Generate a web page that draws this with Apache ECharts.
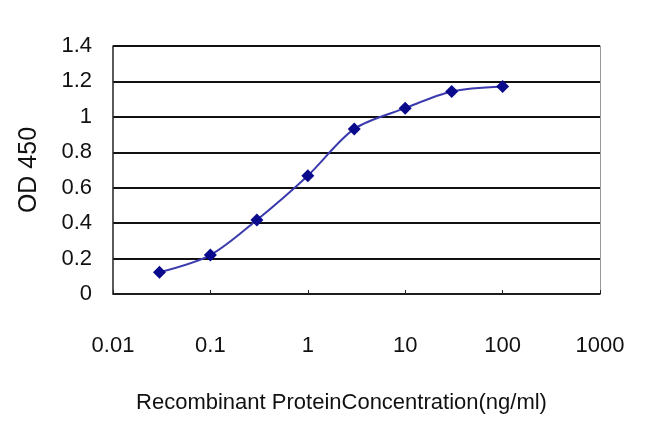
<!DOCTYPE html>
<html>
<head>
<meta charset="utf-8">
<script src="https://cdn.jsdelivr.net/npm/echarts@6/dist/echarts.min.js"></script>
<style>
html,body{margin:0;padding:0;background:#fff;}
#echarts{width:650px;height:433px;}
</style>
</head>
<body>
<div id="echarts"></div>
<script>
// concentration (ng/ml) and OD 450 readings
var conc = [0.03, 0.1, 0.3, 1, 3, 10, 30, 100];
var od450 = [0.123, 0.22, 0.418, 0.668, 0.932, 1.049, 1.143, 1.171];

var data = [];
for (var i = 0; i < conc.length; i++) {
    data.push([conc[i], od450[i]]);
}

var myChart = echarts.init(document.getElementById('echarts'));
var font = 'Liberation Sans, Arial, sans-serif';
var option = {
    animation: false,
    backgroundColor: '#fff',
    grid: {left: 113, right: 50, top: 46, bottom: 139},
    xAxis: {
        type: 'log',
        logBase: 10,
        min: 0.01,
        max: 1000,
        name: 'Recombinant ProteinConcentration(ng/ml)',
        nameLocation: 'middle',
        nameGap: 98,
        nameTextStyle: {color: '#111', fontSize: 22, fontFamily: font, padding: [0, 30, 0, 0]},
        axisLine: {lineStyle: {color: '#222', width: 1.5}},
        axisTick: {inside: true, length: 4, lineStyle: {color: '#222'}},
        axisLabel: {
            color: '#111', fontSize: 22, fontFamily: font, margin: 41,
            formatter: function (v) { return String(v); }
        },
        splitLine: {show: false}
    },
    yAxis: [{
        type: 'value',
        min: 0,
        max: 1.4,
        interval: 0.2,
        name: 'OD 450',
        nameLocation: 'middle',
        nameGap: 71,
        nameTextStyle: {color: '#111', fontSize: 25, fontFamily: font},
        axisLine: {show: true, lineStyle: {color: '#222', width: 1.5}},
        axisTick: {show: false},
        axisLabel: {color: '#111', fontSize: 22, fontFamily: font, margin: 21},
        splitLine: {lineStyle: {color: '#111', width: 2}}
    }, {
        type: 'value',
        min: 0,
        max: 1.4,
        interval: 0.2,
        position: 'right',
        axisLine: {show: true, lineStyle: {color: '#999', width: 1}},
        axisTick: {show: false},
        axisLabel: {show: false},
        splitLine: {show: false}
    }],
    series: [{
        type: 'line',
        smooth: 0.3,
        data: data,
        symbol: 'diamond',
        symbolSize: 13,
        lineStyle: {color: '#3a3aae', width: 2},
        itemStyle: {color: '#0a0a8c'}
    }]
};
myChart.setOption(option);
</script>
</body>
</html>
